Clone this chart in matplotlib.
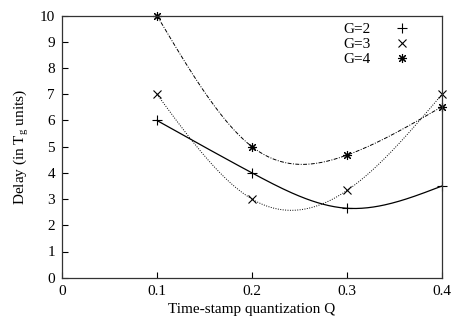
import numpy as np
import matplotlib.pyplot as plt

plt.rcParams['font.family'] = ['Liberation Serif', 'DejaVu Serif']
plt.rcParams['mathtext.fontset'] = 'custom'
plt.rcParams['mathtext.rm'] = 'Liberation Serif'
plt.rcParams['mathtext.it'] = 'Liberation Serif'

q = [0.1, 0.2, 0.3, 0.4]
delay_g2 = [6.0, 4.0, 2.65, 3.5]
delay_g3 = [7.0, 3.0, 3.33, 7.0]
delay_g4 = [10.0, 5.0, 4.68, 6.53]
labels = ['G=2', 'G=3', 'G=4']


def natural_spline(x, y, n=200):
    # same as gnuplot "smooth csplines"
    x = np.asarray(x, float)
    y = np.asarray(y, float)
    k = len(x)
    h = np.diff(x)
    A = np.zeros((k, k))
    b = np.zeros(k)
    A[0, 0] = A[-1, -1] = 1
    for i in range(1, k - 1):
        A[i, i - 1] = h[i - 1]
        A[i, i] = 2 * (h[i - 1] + h[i])
        A[i, i + 1] = h[i]
        b[i] = 6 * ((y[i + 1] - y[i]) / h[i] - (y[i] - y[i - 1]) / h[i - 1])
    m = np.linalg.solve(A, b)
    xs = np.linspace(x[0], x[-1], n)
    idx = np.clip(np.searchsorted(x, xs) - 1, 0, k - 2)
    t0 = x[idx + 1] - xs
    t1 = xs - x[idx]
    hi = h[idx]
    ys = (m[idx] * t0**3 / (6 * hi) + m[idx + 1] * t1**3 / (6 * hi)
          + (y[idx] / hi - m[idx] * hi / 6) * t0
          + (y[idx + 1] / hi - m[idx + 1] * hi / 6) * t1)
    return xs, ys


fig = plt.figure(figsize=(4.51, 3.26), dpi=100)
ax = fig.add_axes([62 / 451, 1 - 277.7 / 326, 380 / 451, 262 / 326])

series = [delay_g2, delay_g3, delay_g4]
styles = ['-', (0, (1, 1.5)), (0, (4, 1.5, 1, 1.5))]
markers = ['+', 'x', (8, 2, 0)]
sizes = [6.5, 6, 6.5]
for vals, ls, mk, ms, lab in zip(series, styles, markers, sizes, labels):
    xs, ys = natural_spline(q, vals)
    ax.plot(xs, ys, color='black', lw=0.9 if ls == '-' else 0.7, linestyle=ls)
    ax.plot(q, vals, linestyle='none', marker=mk, color='black',
            markersize=ms, markeredgewidth=0.8, label=lab, clip_on=False)

ax.set_xlim(0, 0.4)
ax.set_ylim(0, 10)
ax.set_xticks([0, 0.1, 0.2, 0.3, 0.4])
ax.set_xticklabels(['0', '0.1', '0.2', '0.3', '0.4'])
ax.set_yticks(range(0, 11))
ax.tick_params(direction='in', length=4, width=0.8, labelsize=11, pad=5,
               colors='black')
for s in ax.spines.values():
    s.set_linewidth(0.9)
    s.set_color('#333333')

ax.set_xlabel('Time-stamp quantization Q', fontsize=11, labelpad=4)
ax.set_ylabel(r'Delay (in T$_\mathrm{g}$ units)', fontsize=11, labelpad=6)

leg = ax.legend(loc='upper right', frameon=False, markerfirst=False,
                fontsize=11, handlelength=1.0, handletextpad=1.6,
                labelspacing=0.1, borderaxespad=0.0,
                bbox_to_anchor=(0.932, 0.998))

fig.savefig('out.png', dpi=100)
